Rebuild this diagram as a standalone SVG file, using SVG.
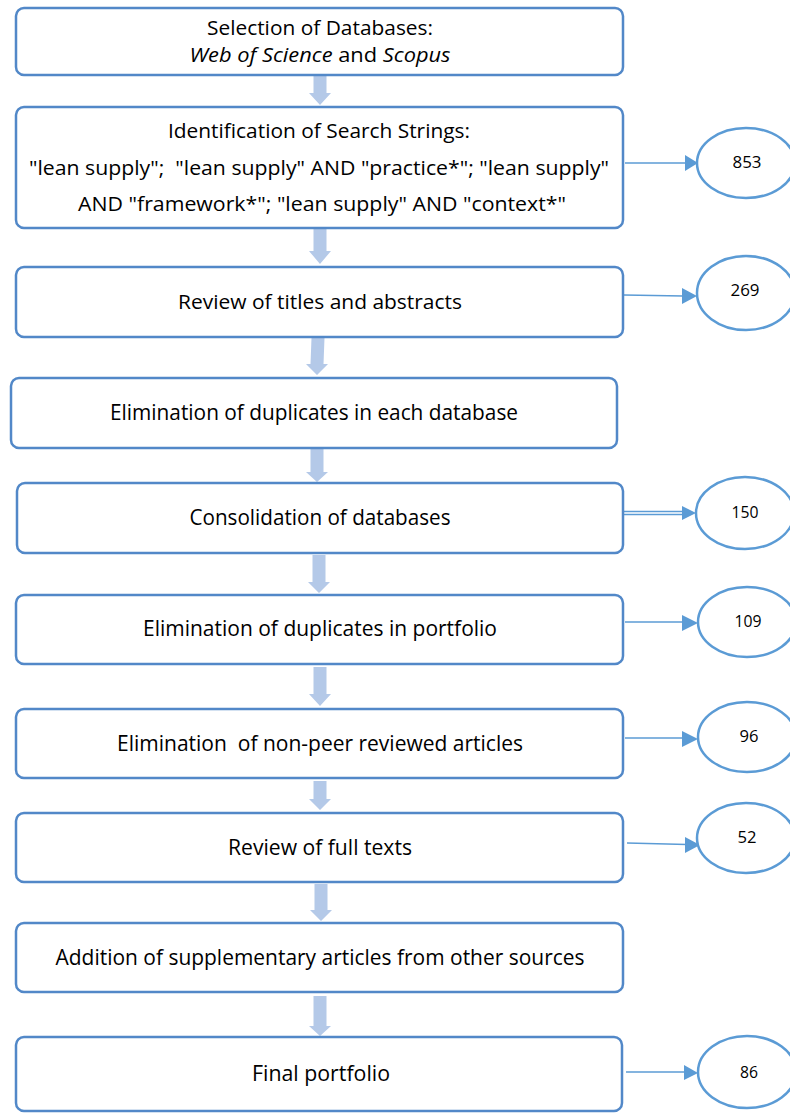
<svg xmlns="http://www.w3.org/2000/svg" width="790" height="1114" viewBox="0 0 790 1114">
  <defs>
    <style>
      .box { fill: #ffffff; stroke: #5288c8; stroke-width: 2.5; }
      .count { fill: #ffffff; stroke: #5b9bd5; stroke-width: 2.5; }
      .step { fill: #b4c9e8; stroke: none; }
      .link { stroke: #5b9bd5; stroke-width: 1.6; fill: none; }
      .head { fill: #5b9bd5; stroke: none; }
      .t { font-family: "Open Sans", "Noto Sans", "Liberation Sans", sans-serif; font-size: 20px; fill: #000000; text-anchor: middle; }
      .tc { font-family: "Open Sans", "Noto Sans", "Liberation Sans", sans-serif; font-size: 21px; fill: #000000; text-anchor: middle; }
      .n { font-family: "Open Sans", "Noto Sans", "Liberation Sans", sans-serif; font-size: 16px; fill: #000000; text-anchor: middle; }
      .i { font-style: italic; }
    </style>
  </defs>

  <rect width="790" height="1114" fill="#ffffff"/>

  <!-- block arrows between process steps -->
  <g id="steps">
    <polygon class="step" points="313.5,76 326.5,76 326.5,93 331,93 320,105 309,93 313.5,93"/>
    <polygon class="step" points="313.5,229 326.5,229 326.5,251 331,251 320,264 309,251 313.5,251"/>
    <polygon class="step" points="311.5,338 324.5,338 323.5,364 328,364 317,375 306,364 310.5,364"/>
    <polygon class="step" points="310.5,449 323.5,449 323.5,472 328,472 317,482 306,472 310.5,472"/>
    <polygon class="step" points="312.5,555 325.5,555 325.5,582 330,582 319,593 308,582 312.5,582"/>
    <polygon class="step" points="313.5,667 326.5,667 326.5,694 331,694 320,706 309,694 313.5,694"/>
    <polygon class="step" points="313.5,781 326.5,781 326.5,799 331,799 320,810 309,799 313.5,799"/>
    <polygon class="step" points="314.5,884 327.5,884 327.5,910 332,910 321,921 310,910 314.5,910"/>
    <polygon class="step" points="313.5,996 326.5,996 326.5,1026 331,1026 320,1036 309,1026 313.5,1026"/>
  </g>

  <!-- connectors from steps to record counts -->
  <g id="connectors">
    <line class="link" x1="625" y1="163" x2="686" y2="163"/>
    <polygon class="head" points="685,155 698,163 685,171"/>
    <line class="link" x1="624" y1="295" x2="683" y2="296"/>
    <polygon class="head" points="682,288 697,296 682,304"/>
    <line class="link" x1="624" y1="511.5" x2="684" y2="511.5"/>
    <line class="link" x1="624" y1="514.5" x2="684" y2="514.5"/>
    <polygon class="head" points="682,506 696,513 682,520"/>
    <line class="link" x1="625" y1="622" x2="684" y2="622"/>
    <polygon class="head" points="682,615 698,623 682,631"/>
    <line class="link" x1="625" y1="738" x2="684" y2="738"/>
    <polygon class="head" points="682,731 698,739 682,747"/>
    <line class="link" x1="627" y1="843" x2="687" y2="844.5"/>
    <polygon class="head" points="685,837 700,845 685,853"/>
    <line class="link" x1="626" y1="1072" x2="686" y2="1072"/>
    <polygon class="head" points="684,1065 698,1073 684,1080"/>
  </g>

  <g id="n-databases">
    <rect class="box" x="16" y="8" width="607" height="67" rx="8"/>
    <text class="t" x="320" y="35" textLength="226" lengthAdjust="spacingAndGlyphs">Selection of Databases:</text>
    <text class="t" x="320" y="62" textLength="261" lengthAdjust="spacingAndGlyphs" xml:space="preserve"><tspan class="i">Web of Science</tspan> and <tspan class="i">Scopus</tspan></text>
  </g>

  <g id="n-strings">
    <rect class="box" x="16" y="107" width="607" height="121" rx="8"/>
    <text class="t" x="319" y="138" textLength="302" lengthAdjust="spacingAndGlyphs">Identification of Search Strings:</text>
    <text class="t" x="319" y="175" textLength="580" lengthAdjust="spacingAndGlyphs" xml:space="preserve">"lean supply";  "lean supply" AND "practice*"; "lean supply"</text>
    <text class="t" x="322" y="211" textLength="488" lengthAdjust="spacingAndGlyphs">AND "framework*"; "lean supply" AND "context*"</text>
  </g>

  <g id="n-titles">
    <rect class="box" x="16" y="267" width="607" height="70" rx="8"/>
    <text class="t" x="320" y="309" textLength="284" lengthAdjust="spacingAndGlyphs">Review of titles and abstracts</text>
  </g>

  <g id="n-dup-each">
    <rect class="box" x="11" y="378" width="606" height="70" rx="8"/>
    <text class="tc" x="314" y="420" textLength="408" lengthAdjust="spacingAndGlyphs">Elimination of duplicates in each database</text>
  </g>

  <g id="n-consolidation">
    <rect class="box" x="17" y="483" width="606" height="70" rx="8"/>
    <text class="tc" x="320" y="525" textLength="261" lengthAdjust="spacingAndGlyphs">Consolidation of databases</text>
  </g>

  <g id="n-dup-portfolio">
    <rect class="box" x="16" y="595" width="607" height="69" rx="8"/>
    <text class="tc" x="320" y="636" textLength="354" lengthAdjust="spacingAndGlyphs">Elimination of duplicates in portfolio</text>
  </g>

  <g id="n-peer">
    <rect class="box" x="16" y="709" width="607" height="69" rx="8"/>
    <text class="tc" x="320" y="751" textLength="406" lengthAdjust="spacingAndGlyphs" xml:space="preserve">Elimination  of non-peer reviewed articles</text>
  </g>

  <g id="n-fulltext">
    <rect class="box" x="16" y="813" width="607" height="69" rx="8"/>
    <text class="tc" x="320" y="855" textLength="184" lengthAdjust="spacingAndGlyphs">Review of full texts</text>
  </g>

  <g id="n-supplementary">
    <rect class="box" x="16" y="923" width="607" height="69" rx="8"/>
    <text class="tc" x="320" y="965" textLength="529" lengthAdjust="spacingAndGlyphs">Addition of supplementary articles from other sources</text>
  </g>

  <g id="n-final">
    <rect class="box" x="16" y="1037" width="606" height="74" rx="8"/>
    <text class="tc" x="321" y="1081" textLength="138" lengthAdjust="spacingAndGlyphs">Final portfolio</text>
  </g>

  <!-- record counts -->
  <g id="c-853">
    <ellipse class="count" cx="746" cy="163" rx="49" ry="35"/>
    <text class="n" x="747" y="168" textLength="29" lengthAdjust="spacingAndGlyphs">853</text>
  </g>
  <g id="c-269">
    <ellipse class="count" cx="746" cy="293" rx="49" ry="37"/>
    <text class="n" x="745" y="296" textLength="29" lengthAdjust="spacingAndGlyphs">269</text>
  </g>
  <g id="c-150">
    <ellipse class="count" cx="745" cy="513" rx="49" ry="36"/>
    <text class="n" x="745" y="518" textLength="27" lengthAdjust="spacingAndGlyphs">150</text>
  </g>
  <g id="c-109">
    <ellipse class="count" cx="747" cy="622" rx="49" ry="35"/>
    <text class="n" x="748" y="627" textLength="27" lengthAdjust="spacingAndGlyphs">109</text>
  </g>
  <g id="c-96">
    <ellipse class="count" cx="747" cy="737" rx="49" ry="35"/>
    <text class="n" x="749" y="742" textLength="19" lengthAdjust="spacingAndGlyphs">96</text>
  </g>
  <g id="c-52">
    <ellipse class="count" cx="746" cy="838" rx="49" ry="35"/>
    <text class="n" x="747" y="843" textLength="19" lengthAdjust="spacingAndGlyphs">52</text>
  </g>
  <g id="c-86">
    <ellipse class="count" cx="747" cy="1072" rx="49" ry="36"/>
    <text class="n" x="749" y="1078" textLength="18" lengthAdjust="spacingAndGlyphs">86</text>
  </g>
</svg>
